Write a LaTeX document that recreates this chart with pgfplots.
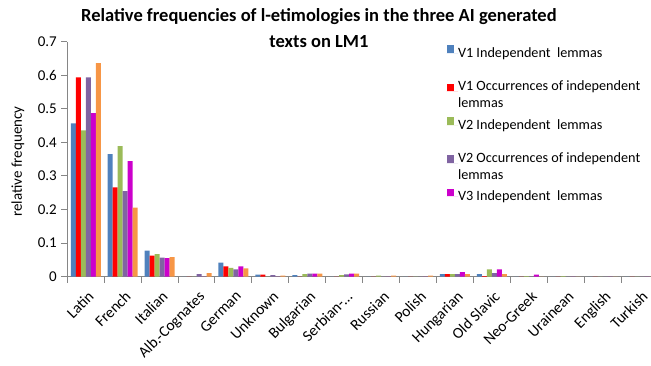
\documentclass[border=0pt]{standalone}
\usepackage{fontspec}
\setmainfont{Carlito}
\usepackage{pgfplots}
\pgfplotsset{compat=1.18}
\definecolor{cA}{HTML}{4F81BD}
\definecolor{cB}{HTML}{FF0000}
\definecolor{cC}{HTML}{9BBB59}
\definecolor{cD}{HTML}{8064A2}
\definecolor{cE}{HTML}{CC00CC}
\definecolor{cF}{HTML}{F79646}
\definecolor{axgray}{HTML}{868686}
\begin{document}
\begin{tikzpicture}[x=1pt,y=1pt]
\begin{axis}[
  at={(67.3pt,88.3pt)}, anchor=south west,
  scale only axis, width=590.7pt, height=235pt,
  ybar=0pt, bar width=5pt,
  xmin=-0.5, xmax=15.5, ymin=0, ymax=0.7,
  axis lines*=left,
  axis line style={axgray, line width=1pt},
  every tick/.style={axgray, line width=1pt},
  tick align=outside,
  major tick length=6pt,
  ytick={0,0.1,0.2,0.3,0.4,0.5,0.6,0.7},
  yticklabels={0,0.1,0.2,0.3,0.4,0.5,0.6,0.7},
  xtick={0,...,15},
  major x tick style={draw=none},
  minor xtick={-0.5,0.5,...,15.5},
  minor x tick style={axgray, line width=1pt},
  minor tick length=6pt,
  xticklabels={Latin,French,Italian,Alb.-Cognates,German,Unknown,Bulgarian,Serbian-\dots,Russian,Polish,Hungarian,Old Slavic,Neo-Greek,Urainean,English,Turkish},
  x tick label style={rotate=45, anchor=north east, font=\fontsize{15.5}{17}\selectfont, inner sep=1pt, xshift=-3pt, yshift=-5pt},
  y tick label style={font=\fontsize{15}{17}\selectfont, xshift=-1pt},
  ylabel={relative frequency},
  ylabel style={at={(axis description cs:-0.0835,0.49)}, anchor=center, font=\fontsize{15}{17}\selectfont},
  title={Relative frequencies of l-etimologies in the three AI generated\\texts on LM1},
  title style={at={(axis description cs:0.426,1.1165)}, anchor=north, align=center, inner sep=0pt, font=\bfseries\fontsize{18.5}{26}\selectfont},
  legend style={at={(axis description cs:0.642,0.984)}, anchor=north west, draw=none, fill=none,
    inner sep=0pt, outer sep=0pt, row sep=24.6pt, column sep=0pt,
    font=\fontsize{14.2}{17}\selectfont,
    nodes={inner sep=0pt, outer sep=0pt}},
  legend cell align=left,
  legend image code/.code={\fill[#1] (0pt,0.5pt) rectangle (7.5pt,8pt); \path (0pt,0pt) -- (11.5pt,0pt);},
  every axis plot/.append style={draw=none},
]
\addplot[fill=cA] coordinates {(0,0.457) (1,0.365) (2,0.078) (3,0) (4,0.042) (5,0.006) (6,0.005) (7,0) (8,0) (9,0) (10,0.008) (11,0.008) (12,0) (13,0) (14,0) (15,0)};
\addplot[fill=cB] coordinates {(0,0.594) (1,0.266) (2,0.063) (3,0) (4,0.031) (5,0.006) (6,0) (7,0) (8,0) (9,0) (10,0.008) (11,0.002) (12,0) (13,0) (14,0) (15,0)};
\addplot[fill=cC] coordinates {(0,0.436) (1,0.389) (2,0.067) (3,0) (4,0.026) (5,0) (6,0.008) (7,0.005) (8,0.003) (9,0) (10,0.008) (11,0.022) (12,0.002) (13,0.002) (14,0) (15,0)};
\addplot[fill=cD] coordinates {(0,0.594) (1,0.255) (2,0.057) (3,0.008) (4,0.022) (5,0.005) (6,0.009) (7,0.007) (8,0) (9,0) (10,0.008) (11,0.011) (12,0) (13,0) (14,0) (15,0)};
\addplot[fill=cE] coordinates {(0,0.487) (1,0.344) (2,0.055) (3,0) (4,0.031) (5,0) (6,0.009) (7,0.009) (8,0) (9,0) (10,0.014) (11,0.022) (12,0.006) (13,0) (14,0) (15,0)};
\addplot[fill=cF] coordinates {(0,0.636) (1,0.206) (2,0.058) (3,0.011) (4,0.025) (5,0.003) (6,0.009) (7,0.009) (8,0.003) (9,0.003) (10,0.008) (11,0.008) (12,0) (13,0) (14,0) (15,0)};
\legend{V1 Independent\ \ lemmas,
  \smash{\parbox[t]{7cm}{V1 Occurrences of independent\newline lemmas}},
  V2 Independent\ \ lemmas,
  \smash{\parbox[t]{7cm}{V2 Occurrences of independent\newline lemmas}},
  V3 Independent\ \ lemmas}
\end{axis}
\pgfresetboundingbox
\useasboundingbox (0pt,0pt) rectangle (651pt,365pt);
\end{tikzpicture}
\end{document}
